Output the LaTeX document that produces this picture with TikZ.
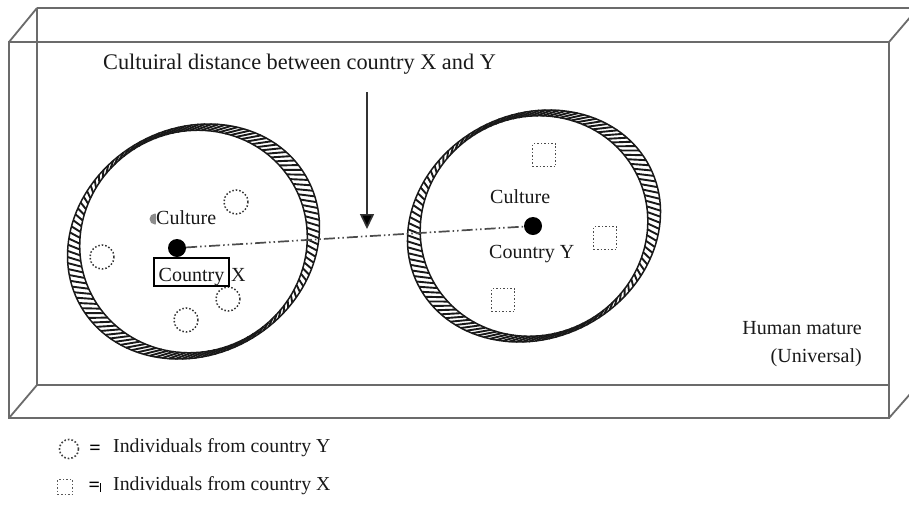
\documentclass[tikz,border=0pt]{standalone}
\usepackage{fontspec}
\setmainfont{Liberation Serif}
\usetikzlibrary{arrows.meta}
\begin{document}
\begin{tikzpicture}[x=1pt,y=-1pt,
  edge/.style={draw=black!58, line width=1.8pt},
  ringline/.style={draw=black!90, line width=1.5pt},
  hatch/.style={draw=black!90, line width=1.9pt},
  lbl/.style={font=\fontsize{20}{24}\selectfont, inner sep=0pt, text=black!90},
  ttl/.style={font=\fontsize{22.3}{26}\selectfont, inner sep=0pt, text=black!90},
  small/.style={font=\fontsize{19.8}{23}\selectfont, inner sep=0pt, text=black!90},
  indiv/.style={circle, draw=black!80, dotted, line width=1.5pt, minimum size=24pt, inner sep=0pt},
  indsq/.style={rectangle, draw=black!70, dotted, line width=1.5pt, minimum size=23pt, inner sep=0pt},
  dot/.style={circle, fill=black, minimum size=18pt, inner sep=0pt},
  distline/.style={draw=black!70, line width=1.7pt, dash pattern=on 11pt off 3pt on 1.5pt off 3pt on 1.5pt off 3pt},
  arrowline/.style={draw=black!80, line width=1.6pt, -{Triangle[width=14pt,length=15pt,fill=black]}}
]
\useasboundingbox (0,0) rectangle (909,507);
\fill[white] (0,0) rectangle (909,507);

% ---- slab (box) ----
\begin{scope}
\clip (0,0) rectangle (909,507);
\coordinate (ftl) at (9,42);
\coordinate (ftr) at (889,42);
\coordinate (fbr) at (889,418);
\coordinate (fbl) at (9,418);
\coordinate (btl) at (37,8);
\coordinate (btr) at (918,8);
\coordinate (bbr) at (918,385);
\coordinate (bbl) at (37,385);
\coordinate (bbm) at (889,385);
\draw[edge] (btl) -- (btr);
\draw[edge] (btl) -- (bbl) -- (bbm);
\draw[edge] (ftl) -- (btl);
\draw[edge] (fbl) -- (bbl);
\draw[edge] (ftr) -- (btr);
\draw[edge] (fbr) -- (bbr);
\draw[edge] (ftl) -- (ftr) -- (fbr) -- (fbl) -- cycle;
\end{scope}

% ---- left culture ring ----
\begin{scope}[shift={(193.5,241.5)}, rotate=30]
  \draw[ringline] (0,0) ellipse [x radius=130pt, y radius=113pt];
  \draw[ringline] (0,0) ellipse [x radius=115pt, y radius=110pt];
  \foreach \t in {0,3,...,357}
    \draw[hatch] ({115*cos(\t)},{110*sin(\t)}) -- ({130*cos(\t+5)},{113*sin(\t+5)});
\end{scope}

% ---- right culture ring ----
\begin{scope}[shift={(534,226)}, rotate=27]
  \draw[ringline] (0,0) ellipse [x radius=130pt, y radius=112pt];
  \draw[ringline] (0,0) ellipse [x radius=115pt, y radius=109pt];
  \foreach \t in {0,3,...,357}
    \draw[hatch] ({115*cos(\t)},{109*sin(\t)}) -- ({130*cos(\t+5)},{112*sin(\t+5)});
\end{scope}

% ---- individuals ----
\node[indiv] (y1) at (236,202) {};
\node[indiv] (y2) at (102,257) {};
\node[indiv] (y3) at (228,299) {};
\node[indiv] (y4) at (186,320) {};
\node[indsq] (x1) at (544,155) {};
\node[indsq] (x2) at (605,238) {};
\node[indsq] (x3) at (503,300) {};

% ---- culture centres and distance ----
\node[dot] (cx) at (177,248) {};
\node[dot] (cy) at (533,226) {};
\draw[distline] (cx) -- (cy);

\coordinate (atop) at (367,92);
\coordinate (atip) at (367,229);
\draw[arrowline] (atop) -- (atip);

% ---- labels ----
\node[ttl, anchor=base west] (title) at (103,69) {Cultuiral distance between country X and Y};
\fill[black!45] (155,219) circle (5.5pt);
\node[lbl, anchor=base west, fill=white] (culx) at (156,224) {Culture};
\node[lbl, draw=black, line width=1.6pt, minimum width=75pt, minimum height=28pt,
      text height=22pt, text depth=4pt] (ctryx) at (191.5,272) {Country};
\node[lbl, anchor=base west] (xlab) at (231,281) {X};
\node[lbl, anchor=base west] (culy) at (490,203) {Culture};
\node[lbl, anchor=base west] (ctryy) at (489,258) {Country Y};
\node[lbl, anchor=base east] (hm) at (862,334) {Human mature};
\node[lbl, anchor=base east] (univ) at (862,362) {(Universal)};

% ---- legend ----
\node[circle, draw=black!75, dotted, line width=1.6pt, minimum size=19pt, inner sep=0pt] (lgy) at (69,449) {};
\node[font=\fontsize{20}{24}\selectfont\bfseries, inner sep=0pt] (eqy) at (95,450) {=};
\node[small, anchor=base west] (lty) at (113,452) {Individuals from country Y};
\node[rectangle, draw=black!65, dotted, line width=1.5pt, minimum size=15pt, inner sep=0pt] (lgx) at (65,487) {};
\node[font=\fontsize{20}{24}\selectfont\bfseries, inner sep=0pt] (eqx) at (95,487) {=\rule[-1pt]{1.3pt}{9pt}};
\node[small, anchor=base west] (ltx) at (113,490) {Individuals from country X};
\end{tikzpicture}
\end{document}
